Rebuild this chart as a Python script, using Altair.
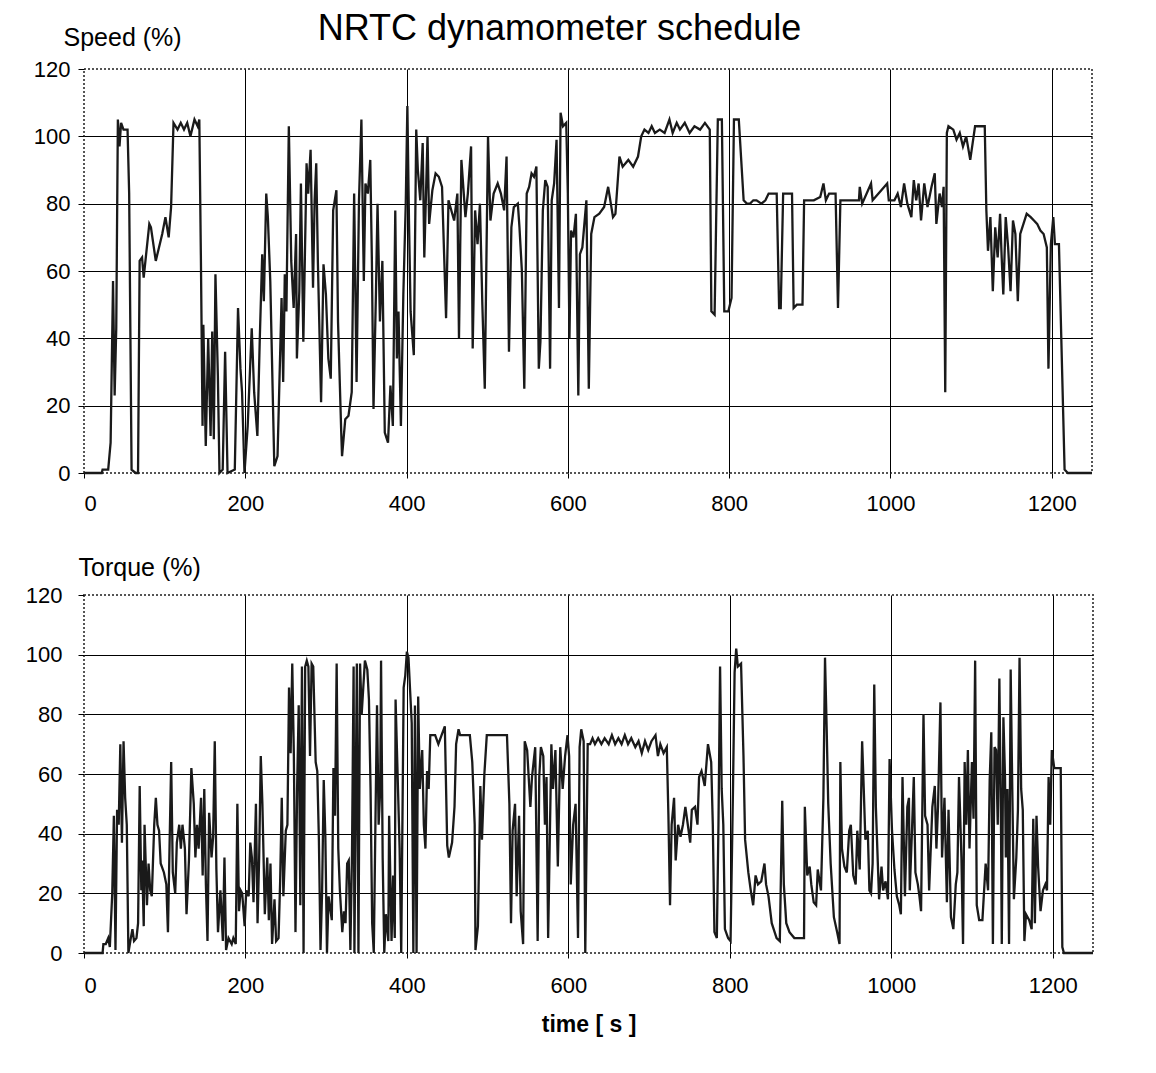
import altair as alt
import pandas as pd

# ---- data ----
speed_t = [0, 22, 23, 30, 33, 36, 38, 40, 42, 44, 46, 49, 54, 56, 59, 64, 67, 69, 72, 74, 81, 83, 89, 93, 97, 101,
           105, 108, 111, 116, 120, 124, 128, 132, 137, 141, 143, 145, 147, 148, 151, 154, 157, 159, 161, 163, 166,
           168, 172, 175, 178, 187, 191, 194, 196, 199, 203, 208, 211, 215, 218, 221, 223, 226, 228, 231, 236, 240,
           245, 247, 249, 251, 254, 257, 260, 263, 264, 267, 269, 272, 276, 278, 281, 284, 286, 288, 290, 294, 297,
           300,
           303, 306, 309, 313, 315, 319, 320, 324, 328, 332, 335, 338, 341, 344, 347, 349, 352, 355, 357, 359, 362,
           364, 367, 370, 373, 377, 380, 383, 386, 388, 390, 393, 396, 399, 401, 403, 405, 409, 412, 414, 417, 420,
           422, 426, 428, 432, 436, 440, 444, 449, 452, 459, 463, 465, 468, 473, 476, 480, 482, 485, 488, 491, 494,
           497, 499, 501, 504, 508, 513, 517, 521, 524, 527, 530, 533, 538, 540, 543, 546, 549, 552, 555, 558, 561,
           564, 566, 569, 572, 575, 578, 580, 583, 586, 589, 591, 594, 598, 600, 602, 604, 607, 610, 613, 615, 618,
           623, 626,
           629, 633, 639, 645, 650, 656, 659, 664, 668, 675, 681, 687, 691, 695, 700, 704, 708, 714, 720, 726, 730,
           735, 739, 745, 751, 757, 764, 770, 776, 778, 782, 786, 791, 794, 799, 803, 806, 812, 818, 822, 826, 830,
           834, 840, 845, 849, 859, 862, 864, 867, 878, 880, 884, 891, 893, 905, 913, 917, 920, 924,
           932, 935, 938, 946, 961, 962, 965, 976, 978, 996, 998, 1005, 1009, 1013, 1017, 1021, 1026, 1029, 1032,
           1035, 1038, 1042, 1046, 1051, 1055, 1057, 1061, 1064, 1066, 1068, 1070, 1072, 1078, 1082, 1086, 1090,
           1094, 1099, 1102, 1105, 1113, 1117, 1119, 1121, 1124, 1127, 1130, 1133, 1136, 1138, 1140, 1143, 1146,
           1149, 1152, 1155, 1158, 1161, 1165, 1169, 1174, 1178, 1182, 1186, 1190, 1194, 1196, 1199, 1202, 1204,
           1209, 1216, 1220, 1250]
speed_v = [0, 0, 1, 1, 9, 57, 23, 43, 105, 97, 104, 102, 102, 83, 1, 0, 0, 63, 64, 58, 74, 73, 63, 67, 71, 76,
           70, 79, 104, 102, 104, 102, 104, 100, 105, 103, 105, 63, 14, 44, 8, 40, 11, 42, 10, 59, 29,
           0, 1, 36, 0, 1, 49, 31, 24, 0, 14, 43, 24, 11, 40, 65, 51, 83, 76, 57, 2, 5,
           52, 27, 59, 48, 103, 63, 49, 71, 34, 54, 86, 39, 92, 83, 96, 55, 81, 92, 63, 21, 62,
           53,
           34, 28, 78, 84, 45, 12, 5, 16, 17, 24, 83, 27, 81, 105, 57, 86, 83, 93, 63, 19, 53,
           80, 45, 63, 12, 9, 26, 14, 78, 34, 48, 14, 53, 80, 109, 75, 48, 35, 102, 90, 81, 98,
           64, 100, 74, 84, 89, 88, 85, 46, 81, 75, 83, 40, 93, 76, 83, 97, 37, 78, 68, 80, 50,
           25, 63, 100, 75, 83, 86, 83, 78, 94, 36, 73, 79, 80, 73, 60, 25, 83, 85, 89, 88, 91,
           31, 39, 78, 87, 85, 31, 81, 86, 99, 49, 107, 103, 104, 83, 40, 72, 70, 77, 23, 65, 67,
           81, 25,
           71, 76, 77, 79, 85, 76, 77, 94, 91, 93, 91, 94, 100, 102, 101, 103, 101, 102, 101, 105, 101,
           104, 102, 104, 101, 103, 102, 104, 102, 48, 47, 105, 105, 48, 48, 52, 105, 105, 81, 80, 80, 81,
           81, 80, 81, 83, 83, 49, 49, 83, 83, 49, 50, 50, 81, 81, 82, 86, 81, 83,
           83, 49, 81, 81, 81, 85, 80, 86, 81, 86, 81, 81, 83, 79, 86, 80, 76, 87, 81,
           86, 75, 86, 79, 85, 89, 74, 83, 79, 85, 24, 101, 103, 102, 99, 101, 97,
           100, 93, 98, 103, 103, 103, 78, 66, 76, 54, 73, 64, 77, 64, 53, 76, 67,
           54, 75, 71, 51, 71, 74, 77, 76, 75, 74, 72, 71, 67, 31, 68, 76, 68,
           68, 1, 0, 0]

torque_t = [0, 23, 24, 27, 30, 32, 35, 37, 39, 41, 43, 45, 47, 49, 51, 53, 55, 58, 60, 62, 65, 67, 69, 71, 72,
            74, 75, 78, 80, 82, 84, 87, 89, 91, 93, 95, 99, 102, 104, 106, 108, 110, 113, 115, 118, 120, 122,
            125, 127, 130, 133, 136, 138, 140, 142, 145, 147, 149, 151, 153, 155, 158, 160, 162, 164, 166, 169,
            172, 174, 176, 179, 183, 185, 188, 190, 192, 194, 196, 199, 201, 204, 206, 208, 210, 213, 215, 217,
            219, 221, 224, 227, 229, 231, 233, 236, 238, 241, 243, 245, 247, 250, 252, 254, 256, 258, 260, 262,
            264, 266, 268, 270, 272, 274, 276, 278, 280, 282, 284, 287, 289, 291, 293, 295, 297, 299, 301,
            303, 307, 309, 311, 313, 315, 317, 320, 322, 324, 326, 328, 330, 332, 334, 335, 338, 340, 342, 344,
            346, 348, 351, 353, 355, 357, 359, 361, 363, 365, 367, 368, 370, 372, 374, 377, 378, 381, 383, 385,
            386, 389, 391, 393, 396, 398, 400, 402, 404, 406, 408, 410, 412, 414, 416, 419, 421, 423, 425, 427,
            429, 435, 439, 443, 447, 450, 452, 456, 459, 461, 464, 466, 478, 481, 484, 485, 488, 491, 493, 496,
            499, 505, 513, 524, 527, 529, 531, 534, 536, 539, 541, 544, 546, 549, 553, 555, 559, 562, 564, 566,
            569, 571, 573, 575, 579, 581, 584, 587, 590, 593, 596, 599, 601, 603, 606, 609, 612,
            614, 616, 619, 621, 624, 627, 630, 633, 637, 641, 645, 650, 654, 658, 662, 666, 670, 674, 678, 683,
            687, 691, 695, 699, 703, 708, 711, 714, 718, 722, 724, 726, 728, 731, 733, 736, 739, 742, 745, 748,
            751, 753, 757, 760, 762, 765, 769, 773, 777, 779, 781, 784, 786, 788, 790, 792, 794, 798, 801, 804,
            806, 808, 810, 814, 817, 819, 823, 826, 829, 832, 835, 839, 843, 845, 848, 852, 858, 862, 865, 867,
            870, 874, 880, 892, 893, 896, 899, 901, 904, 907, 909, 913, 916, 918,
            920, 922, 925, 929, 933, 936, 937, 939, 942, 945, 948, 950, 953, 956, 958, 961, 964, 966, 968, 971,
            973, 975, 977, 979, 981, 985, 988, 990, 993, 996, 998, 1001, 1004, 1007, 1010, 1012, 1014, 1017,
            1020, 1022, 1023, 1026, 1028, 1030, 1033, 1035, 1037, 1040, 1042, 1045, 1047, 1051, 1054, 1056,
            1058, 1061, 1063, 1066, 1069, 1071, 1074, 1077, 1080, 1082, 1084, 1087, 1089, 1091, 1093, 1095,
            1097, 1100, 1102, 1104, 1106, 1109, 1113, 1117, 1120, 1122, 1124, 1126, 1128, 1130, 1132, 1134,
            1136, 1137, 1139, 1141, 1142, 1144, 1146, 1148, 1150, 1152, 1155, 1157, 1159, 1161, 1163, 1165,
            1167, 1171, 1174, 1176, 1178, 1180, 1182, 1185, 1188, 1191, 1193, 1195, 1197, 1199, 1202, 1206,
            1210, 1212, 1214, 1250]
torque_v = [0, 0, 3, 3, 5, 2, 20, 46, 1, 48, 43, 70, 37, 71, 52, 43, 0, 5, 8, 4, 5, 10, 56, 21, 31,
            9, 43, 16, 30, 21, 19, 43, 52, 43, 41, 30, 27, 23, 7, 36, 64, 27, 20, 37, 43, 35, 43,
            35, 13, 31, 62, 50, 32, 43, 35, 52, 26, 55, 23, 4, 47, 32, 39, 71, 28, 7, 21,
            4, 32, 1, 5, 3, 5, 3, 50, 14, 21, 20, 9, 21, 19, 37, 32, 17, 50, 10, 32,
            66, 50, 13, 32, 11, 30, 3, 18, 4, 5, 24, 52, 19, 41, 43, 89, 67, 97, 66, 7,
            55, 83, 16, 96, 0, 96, 98, 96, 66, 97, 96, 64, 61, 38, 1, 21, 58, 39, 0,
            19, 11, 62, 46, 97, 35, 21, 7, 14, 10, 30, 31, 1, 33, 96, 0, 97, 0, 97, 80,
            89, 98, 95, 85, 55, 10, 0, 43, 83, 43, 55, 98, 32, 0, 13, 4, 46, 4, 26, 5,
            85, 55, 35, 0, 89, 93, 101, 99, 88, 77, 0, 83, 0, 86, 55, 68, 43, 35, 61, 55,
            73, 73, 70, 73, 76, 36, 32, 37, 49, 70, 75, 73, 73, 64, 43, 1, 9, 56, 38, 60,
            73, 73, 73, 73, 50, 10, 41, 50, 19, 46, 14, 3, 71, 68, 49, 59, 69, 4, 59, 69,
            66, 43, 59, 5, 70, 55, 68, 29, 69, 55, 66, 73, 66, 23, 43, 50, 5,
            69, 75, 71, 0, 70, 70, 72, 70, 72, 70, 72, 70, 73, 70, 72, 70, 73, 70, 72, 69,
            71, 67, 71, 68, 71, 73, 66, 70, 67, 69, 46, 16, 43, 52, 31, 43, 39, 43, 49, 43,
            37, 48, 49, 43, 59, 61, 56, 70, 64, 43, 7, 5, 43, 96, 55, 43, 8, 5, 4, 55,
            94, 102, 96, 97, 66, 38, 27, 21, 16, 26, 23, 24, 30, 23, 19, 10, 5, 4, 51, 23,
            10, 7, 5, 5, 49, 26, 29, 23, 17, 16, 28, 21, 52, 99,
            76, 50, 30, 12, 7, 3, 64, 35, 29, 27, 41, 43, 26, 23, 41, 28, 71, 55, 38, 41,
            21, 20, 30, 90, 49, 18, 29, 21, 24, 18, 65, 41, 28, 19, 16, 13, 59, 19,
            49, 52, 21, 43, 59, 27, 23, 19, 14, 80, 46, 43, 21, 49, 56, 35,
            49, 84, 32, 52, 17, 48, 12, 8, 23, 27, 59, 32, 3, 64, 43, 68,
            35, 64, 45, 98, 16, 11, 11, 30, 21, 58, 74, 3, 69, 68, 43, 92,
            43, 3, 79, 59, 32, 55, 3, 95, 55, 18, 32, 48, 99, 55, 48, 4,
            13, 11, 8, 45, 10, 46, 29, 14, 21, 23, 21, 59, 43, 68, 62, 62,
            62, 2, 0, 0]

y_ticks = [0, 20, 40, 60, 80, 100, 120]
x_ticks = [0, 200, 400, 600, 800, 1000, 1200]

speed_df = pd.DataFrame({"t": speed_t, "v": speed_v})
torque_df = pd.DataFrame({"t": torque_t, "v": torque_v})

FONT = "Liberation Sans"
edge_grid = alt.condition("datum.value == 0 || datum.value == 120",
                          alt.value("transparent"), alt.value("#000000"))
edge_grid_x = alt.condition("datum.value == 0",
                            alt.value("transparent"), alt.value("#000000"))


def panel(df, w, h, ytitle, tx, ty, xtitle, lpad, xlpad):
    xaxis = alt.Axis(values=x_ticks, format="d", grid=True, gridColor=edge_grid_x, gridWidth=1,
                     tickSize=5, labelPadding=xlpad, labelFontSize=22, labelFont=FONT,
                     domain=False, title=xtitle, titleFont=FONT, titleFontSize=23,
                     titleFontWeight="bold", titlePadding=17, titleColor="#000")
    yaxis = alt.Axis(values=y_ticks, grid=True, gridColor=edge_grid, gridWidth=1,
                     tickSize=6, labelPadding=lpad, labelFontSize=22, labelFont=FONT,
                     domain=False, title=ytitle, titleFont=FONT, titleFontSize=25,
                     titleFontWeight="normal", titleAngle=0, titleAlign="left",
                     titleBaseline="alphabetic", titleX=tx, titleY=ty, titleColor="#000")
    return alt.Chart(df).mark_line(color="#1a1a1a", strokeWidth=2.3).encode(
        x=alt.X("t:Q", scale=alt.Scale(domain=[0, 1250], nice=False), axis=xaxis),
        y=alt.Y("v:Q", scale=alt.Scale(domain=[0, 120], nice=False), axis=yaxis),
    ).properties(width=w, height=h)


top = panel(speed_df, 1008, 404, "Speed (%)", -21, -24, None, 8, 15.5)
bottom = panel(torque_df, 1009, 358, "Torque (%)", -6, -20, "time [ s ]", 16, 17)

chart = alt.vconcat(top, bottom, spacing=38).properties(
    title=alt.TitleParams("NRTC dynamometer schedule", font=FONT, fontSize=36,
                          fontWeight="normal", anchor="middle", color="#000", offset=-24, dx=-2),
    padding={"left": 16, "top": 3, "right": 5, "bottom": 5},
).configure_view(
    stroke="#555", strokeWidth=2, strokeDash=[2, 2]
).configure_axis(
    labelColor="#000", tickColor="#000"
)

chart.save("out.html", embed_options={"renderer": "svg", "actions": False})
